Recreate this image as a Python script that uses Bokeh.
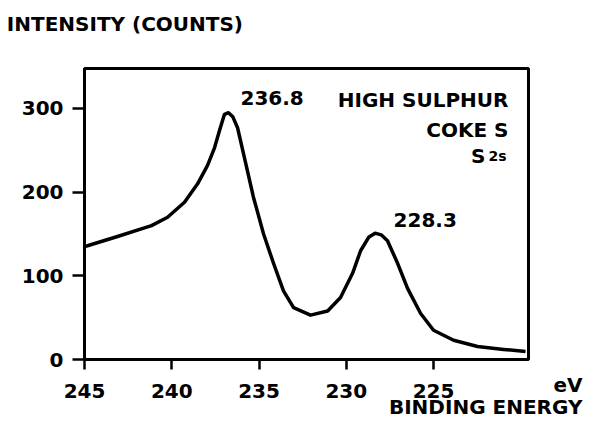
from bokeh.plotting import figure
from bokeh.models import Range1d, Label, FixedTicker
from bokeh.embed import file_html
from bokeh.resources import INLINE

# Binding energy (eV) and intensity (counts)
energy = [245.0, 244.83, 243.11, 241.16, 240.24, 239.27, 238.52, 237.95, 237.55,
          237.26, 236.98, 236.75, 236.5, 236.23, 235.89, 235.32, 234.74, 234.17,
          233.60, 233.02, 232.05, 231.07, 230.33, 229.64, 229.18, 228.72, 228.35,
          228.0, 227.64, 227.06, 226.49, 225.74, 225.0, 223.85, 222.48, 220.99, 219.73]
intensity = [135, 136, 147, 160, 170, 188, 210, 232, 253,
             274, 293, 295, 290, 277, 246, 194, 150, 115,
             82, 62, 53, 58, 74, 103, 130, 146, 151,
             149, 142, 115, 85, 55, 35, 23, 15.5, 12, 9.6]

x_ticks = [245, 240, 235, 230, 225]
y_ticks = [0, 100, 200, 300]

peak_labels = ["236.8", "228.3"]
peak_label_x = [236.06, 227.29]
peak_label_y = [313.1, 167.3]

FONT = "DejaVu Sans"

p = figure(width=584, height=422, output_backend="svg", toolbar_location=None,
           x_range=Range1d(245, 219.56), y_range=Range1d(0, 347.8),
           min_border_left=84, min_border_right=56, min_border_top=68,
           min_border_bottom=63, background_fill_color="white",
           border_fill_color="white")

p.line(energy, intensity, line_color="black", line_width=3.5, line_join="round")

p.grid.visible = False
p.outline_line_color = "black"
p.outline_line_width = 3

for ax in (p.xaxis[0], p.yaxis[0]):
    ax.axis_line_width = 3
    ax.major_tick_line_width = 2.5
    ax.major_tick_in = 0
    ax.minor_tick_line_color = None
    ax.major_label_text_font = FONT
    ax.major_label_text_font_style = "bold"
    ax.major_label_text_font_size = "20px"
    ax.major_label_text_color = "black"

p.xaxis.ticker = FixedTicker(ticks=x_ticks)
p.yaxis.ticker = FixedTicker(ticks=y_ticks)
p.xaxis.major_tick_out = 10
p.yaxis.major_tick_out = 12
p.xaxis.major_label_standoff = 14
p.yaxis.major_label_standoff = 9


def make_label(text, x, y, align="left", size="20px", units="screen"):
    return Label(x=x, y=y, x_units=units, y_units=units, text=text,
                 text_font=FONT, text_font_style="bold",
                 text_font_size=size, text_color="black",
                 text_align=align, text_baseline="alphabetic")


# labels inside the frame
for t, xv, yv in zip(peak_labels, peak_label_x, peak_label_y):
    p.add_layout(make_label(t, xv, yv, units="data"))
p.add_layout(make_label("HIGH SULPHUR", 424, 260, align="right"))
p.add_layout(make_label("COKE S", 424, 230, align="right"))
p.add_layout(make_label("S", 401, 204, align="right"))
p.add_layout(make_label("2s", 404, 204, size="14px"))

# labels outside the frame, placed in side panels (located through the data scales)
p.add_layout(make_label("INTENSITY (COUNTS)", 249.45, 400.4, units="data"), "above")
p.add_layout(make_label("BINDING ENERGY", 216.47, -57.3, align="right", units="data"), "above")
p.add_layout(make_label("eV", 216.47, -29.9, align="right", units="data"), "right")

open("out.html", "w").write(file_html(p, INLINE))
